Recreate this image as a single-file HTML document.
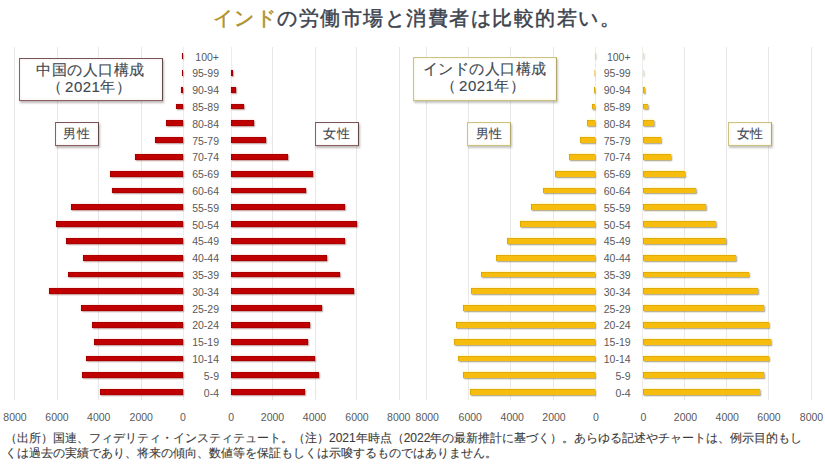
<!DOCTYPE html>
<html lang="ja"><head><meta charset="utf-8">
<style>
html,body{margin:0;padding:0;background:#fff;}
body{width:825px;height:464px;position:relative;overflow:hidden;font-family:"Liberation Sans",sans-serif;}
.t{position:absolute;left:4.5px;width:825px;top:3px;-webkit-text-stroke:0.45px currentColor;text-align:center;font-size:19.5px;letter-spacing:1.5px;line-height:30px;color:#3b424d;white-space:nowrap;}
.t span{color:#b09126;}
.g{position:absolute;top:47px;height:353px;width:1px;background:#e8e8e8;}
.ax{position:absolute;top:47px;height:353px;width:1px;background:#ededed;}
.b{position:absolute;height:5.8px;}
.r{background:#c00000;box-shadow:inset 0.6px 0.6px 0 rgba(90,0,0,0.45), inset -0.6px -0.6px 0 rgba(90,0,0,0.4), 0 0 2px rgba(235,100,100,0.45), 0.8px 1.2px 1.2px rgba(90,20,20,0.4);}
.y{background:#f6bd0e;box-shadow:inset 0.6px 0.6px 0 rgba(150,110,0,0.45), 0 -1px 2px rgba(255,245,190,0.8), 0.8px 1.3px 1.3px rgba(100,85,30,0.6);}
.al{position:absolute;width:60px;text-align:right;font-size:10.5px;line-height:16px;color:#595959;margin-top:0.5px;}
.xl{position:absolute;top:409px;width:60px;text-align:center;font-size:10.5px;line-height:16px;color:#595959;}
.bx{position:absolute;background:#fff;box-sizing:border-box;text-align:center;color:#404850;white-space:nowrap;}
.bc{border:1px solid #8d6064;border-right-color:#5e4848;border-top-color:#7a5558;box-shadow:1px 1.5px 2px rgba(40,20,20,0.3), inset 0 0 3px #f6e8e8;}
.bi{border:1px solid #cdc283;border-right-color:#b0a770;box-shadow:1px 1.5px 2px rgba(60,60,40,0.3), inset 0 0 3px #f6efcc;}
.big{font-size:15px;line-height:17.4px;padding-top:2px;letter-spacing:0.5px;-webkit-text-stroke:0.15px currentColor;}
.big i{font-style:normal;letter-spacing:3px;}
.sm{font-size:13px;line-height:21.5px;letter-spacing:0.3px;-webkit-text-stroke:0.1px currentColor;}
.ft{position:absolute;left:5px;top:431px;font-size:12px;line-height:15px;color:#3c3c3c;-webkit-text-stroke:0.12px currentColor;white-space:nowrap;}
</style></head><body>
<div class="t"><span>インド</span>の労働市場と消費者は比較的若い。</div>
<div class="g" style="left:14px"></div>
<div class="g" style="left:57px"></div>
<div class="g" style="left:98px"></div>
<div class="g" style="left:141px"></div>
<div class="g" style="left:272px"></div>
<div class="g" style="left:315px"></div>
<div class="g" style="left:356px"></div>
<div class="g" style="left:399px"></div>
<div class="ax" style="left:182.50px"></div>
<div class="ax" style="left:230.75px"></div>
<div class="b r" style="left:181.70px;top:53.20px;width:1.30px"></div>
<div class="al" style="left:159.00px;top:48.10px">100+</div>
<div class="b r" style="left:181.70px;top:70.00px;width:1.30px"></div>
<div class="b r" style="left:231.25px;top:70.00px;width:1.25px"></div>
<div class="al" style="left:159.00px;top:64.90px">95-99</div>
<div class="b r" style="left:181.00px;top:86.80px;width:2.00px"></div>
<div class="b r" style="left:231.25px;top:86.80px;width:5.00px"></div>
<div class="al" style="left:159.00px;top:81.70px">90-94</div>
<div class="b r" style="left:175.50px;top:103.60px;width:7.50px"></div>
<div class="b r" style="left:231.25px;top:103.60px;width:12.75px"></div>
<div class="al" style="left:159.00px;top:98.50px">85-89</div>
<div class="b r" style="left:166.00px;top:120.40px;width:17.00px"></div>
<div class="b r" style="left:231.25px;top:120.40px;width:22.75px"></div>
<div class="al" style="left:159.00px;top:115.30px">80-84</div>
<div class="b r" style="left:155.00px;top:137.20px;width:28.00px"></div>
<div class="b r" style="left:231.25px;top:137.20px;width:34.25px"></div>
<div class="al" style="left:159.00px;top:132.10px">75-79</div>
<div class="b r" style="left:135.00px;top:154.00px;width:48.00px"></div>
<div class="b r" style="left:231.25px;top:154.00px;width:56.35px"></div>
<div class="al" style="left:159.00px;top:148.90px">70-74</div>
<div class="b r" style="left:110.00px;top:170.80px;width:73.00px"></div>
<div class="b r" style="left:231.25px;top:170.80px;width:81.25px"></div>
<div class="al" style="left:159.00px;top:165.70px">65-69</div>
<div class="b r" style="left:111.50px;top:187.60px;width:71.50px"></div>
<div class="b r" style="left:231.25px;top:187.60px;width:74.75px"></div>
<div class="al" style="left:159.00px;top:182.50px">60-64</div>
<div class="b r" style="left:71.25px;top:204.40px;width:111.75px"></div>
<div class="b r" style="left:231.25px;top:204.40px;width:113.25px"></div>
<div class="al" style="left:159.00px;top:199.30px">55-59</div>
<div class="b r" style="left:55.75px;top:221.20px;width:127.25px"></div>
<div class="b r" style="left:231.25px;top:221.20px;width:125.75px"></div>
<div class="al" style="left:159.00px;top:216.10px">50-54</div>
<div class="b r" style="left:65.50px;top:238.00px;width:117.50px"></div>
<div class="b r" style="left:231.25px;top:238.00px;width:113.75px"></div>
<div class="al" style="left:159.00px;top:232.90px">45-49</div>
<div class="b r" style="left:82.75px;top:254.80px;width:100.25px"></div>
<div class="b r" style="left:231.25px;top:254.80px;width:95.75px"></div>
<div class="al" style="left:159.00px;top:249.70px">40-44</div>
<div class="b r" style="left:67.50px;top:271.60px;width:115.50px"></div>
<div class="b r" style="left:231.25px;top:271.60px;width:108.25px"></div>
<div class="al" style="left:159.00px;top:266.50px">35-39</div>
<div class="b r" style="left:48.75px;top:288.40px;width:134.25px"></div>
<div class="b r" style="left:231.25px;top:288.40px;width:122.50px"></div>
<div class="al" style="left:159.00px;top:283.30px">30-34</div>
<div class="b r" style="left:80.50px;top:305.20px;width:102.50px"></div>
<div class="b r" style="left:231.25px;top:305.20px;width:90.75px"></div>
<div class="al" style="left:159.00px;top:300.10px">25-29</div>
<div class="b r" style="left:92.00px;top:322.00px;width:91.00px"></div>
<div class="b r" style="left:231.25px;top:322.00px;width:78.25px"></div>
<div class="al" style="left:159.00px;top:316.90px">20-24</div>
<div class="b r" style="left:94.00px;top:338.80px;width:89.00px"></div>
<div class="b r" style="left:231.25px;top:338.80px;width:76.75px"></div>
<div class="al" style="left:159.00px;top:333.70px">15-19</div>
<div class="b r" style="left:85.50px;top:355.60px;width:97.50px"></div>
<div class="b r" style="left:231.25px;top:355.60px;width:83.25px"></div>
<div class="al" style="left:159.00px;top:350.50px">10-14</div>
<div class="b r" style="left:81.50px;top:372.40px;width:101.50px"></div>
<div class="b r" style="left:231.25px;top:372.40px;width:87.50px"></div>
<div class="al" style="left:159.00px;top:367.30px">5-9</div>
<div class="b r" style="left:100.25px;top:389.20px;width:82.75px"></div>
<div class="b r" style="left:231.25px;top:389.20px;width:73.25px"></div>
<div class="al" style="left:159.00px;top:384.10px">0-4</div>
<div class="g" style="left:426px"></div>
<div class="g" style="left:468px"></div>
<div class="g" style="left:510px"></div>
<div class="g" style="left:553px"></div>
<div class="g" style="left:684px"></div>
<div class="g" style="left:726px"></div>
<div class="g" style="left:768px"></div>
<div class="g" style="left:811px"></div>
<div class="ax" style="left:594.80px"></div>
<div class="ax" style="left:642.00px"></div>
<div class="b y" style="left:594.50px;top:53.20px;width:0.80px;opacity:0.45"></div>
<div class="b y" style="left:642.50px;top:53.20px;width:0.70px;opacity:0.45"></div>
<div class="al" style="left:570.60px;top:48.10px">100+</div>
<div class="b y" style="left:594.40px;top:70.00px;width:0.90px;opacity:0.45"></div>
<div class="b y" style="left:642.50px;top:70.00px;width:0.90px;opacity:0.45"></div>
<div class="al" style="left:570.60px;top:64.90px">95-99</div>
<div class="b y" style="left:594.00px;top:86.80px;width:1.30px"></div>
<div class="b y" style="left:642.50px;top:86.80px;width:2.50px"></div>
<div class="al" style="left:570.60px;top:81.70px">90-94</div>
<div class="b y" style="left:592.00px;top:103.60px;width:3.30px"></div>
<div class="b y" style="left:642.50px;top:103.60px;width:5.75px"></div>
<div class="al" style="left:570.60px;top:98.50px">85-89</div>
<div class="b y" style="left:587.00px;top:120.40px;width:8.30px"></div>
<div class="b y" style="left:642.50px;top:120.40px;width:11.25px"></div>
<div class="al" style="left:570.60px;top:115.30px">80-84</div>
<div class="b y" style="left:580.00px;top:137.20px;width:15.30px"></div>
<div class="b y" style="left:642.50px;top:137.20px;width:18.25px"></div>
<div class="al" style="left:570.60px;top:132.10px">75-79</div>
<div class="b y" style="left:568.75px;top:154.00px;width:26.55px"></div>
<div class="b y" style="left:642.50px;top:154.00px;width:28.75px"></div>
<div class="al" style="left:570.60px;top:148.90px">70-74</div>
<div class="b y" style="left:554.50px;top:170.80px;width:40.80px"></div>
<div class="b y" style="left:642.50px;top:170.80px;width:42.00px"></div>
<div class="al" style="left:570.60px;top:165.70px">65-69</div>
<div class="b y" style="left:543.25px;top:187.60px;width:52.05px"></div>
<div class="b y" style="left:642.50px;top:187.60px;width:53.25px"></div>
<div class="al" style="left:570.60px;top:182.50px">60-64</div>
<div class="b y" style="left:531.00px;top:204.40px;width:64.30px"></div>
<div class="b y" style="left:642.50px;top:204.40px;width:63.75px"></div>
<div class="al" style="left:570.60px;top:199.30px">55-59</div>
<div class="b y" style="left:519.50px;top:221.20px;width:75.80px"></div>
<div class="b y" style="left:642.50px;top:221.20px;width:73.75px"></div>
<div class="al" style="left:570.60px;top:216.10px">50-54</div>
<div class="b y" style="left:507.00px;top:238.00px;width:88.30px"></div>
<div class="b y" style="left:642.50px;top:238.00px;width:83.75px"></div>
<div class="al" style="left:570.60px;top:232.90px">45-49</div>
<div class="b y" style="left:495.50px;top:254.80px;width:99.80px"></div>
<div class="b y" style="left:642.50px;top:254.80px;width:93.25px"></div>
<div class="al" style="left:570.60px;top:249.70px">40-44</div>
<div class="b y" style="left:481.25px;top:271.60px;width:114.05px"></div>
<div class="b y" style="left:642.50px;top:271.60px;width:106.75px"></div>
<div class="al" style="left:570.60px;top:266.50px">35-39</div>
<div class="b y" style="left:471.25px;top:288.40px;width:124.05px"></div>
<div class="b y" style="left:642.50px;top:288.40px;width:115.75px"></div>
<div class="al" style="left:570.60px;top:283.30px">30-34</div>
<div class="b y" style="left:462.50px;top:305.20px;width:132.80px"></div>
<div class="b y" style="left:642.50px;top:305.20px;width:121.25px"></div>
<div class="al" style="left:570.60px;top:300.10px">25-29</div>
<div class="b y" style="left:456.25px;top:322.00px;width:139.05px"></div>
<div class="b y" style="left:642.50px;top:322.00px;width:126.75px"></div>
<div class="al" style="left:570.60px;top:316.90px">20-24</div>
<div class="b y" style="left:454.25px;top:338.80px;width:141.05px"></div>
<div class="b y" style="left:642.50px;top:338.80px;width:128.25px"></div>
<div class="al" style="left:570.60px;top:333.70px">15-19</div>
<div class="b y" style="left:457.50px;top:355.60px;width:137.80px"></div>
<div class="b y" style="left:642.50px;top:355.60px;width:126.25px"></div>
<div class="al" style="left:570.60px;top:350.50px">10-14</div>
<div class="b y" style="left:462.50px;top:372.40px;width:132.80px"></div>
<div class="b y" style="left:642.50px;top:372.40px;width:121.75px"></div>
<div class="al" style="left:570.60px;top:367.30px">5-9</div>
<div class="b y" style="left:469.50px;top:389.20px;width:125.80px"></div>
<div class="b y" style="left:642.50px;top:389.20px;width:117.50px"></div>
<div class="al" style="left:570.60px;top:384.10px">0-4</div>
<div class="xl" style="left:-15.00px">8000</div>
<div class="xl" style="left:27.00px">6000</div>
<div class="xl" style="left:68.75px">4000</div>
<div class="xl" style="left:111.25px">2000</div>
<div class="xl" style="left:153.00px">0</div>
<div class="xl" style="left:201.25px">0</div>
<div class="xl" style="left:242.50px">2000</div>
<div class="xl" style="left:284.50px">4000</div>
<div class="xl" style="left:327.00px">6000</div>
<div class="xl" style="left:368.75px">8000</div>
<div class="xl" style="left:397.25px">8000</div>
<div class="xl" style="left:440.25px">6000</div>
<div class="xl" style="left:482.25px">4000</div>
<div class="xl" style="left:524.00px">2000</div>
<div class="xl" style="left:566.00px">0</div>
<div class="xl" style="left:613.50px">0</div>
<div class="xl" style="left:655.50px">2000</div>
<div class="xl" style="left:697.25px">4000</div>
<div class="xl" style="left:739.00px">6000</div>
<div class="xl" style="left:781.50px">8000</div>
<div class="bx bc big" style="left:18.5px;top:57.5px;width:144px;height:43.5px">中国の人口構成<br><i>（</i>2021年<i>）</i></div>
<div class="bx bc sm" style="left:55px;top:122px;width:43.5px;height:23.5px">男性</div>
<div class="bx bc sm" style="left:315px;top:122px;width:43.5px;height:23.5px">女性</div>
<div class="bx bi big" style="left:412.5px;top:57px;width:144px;height:44px">インドの人口構成<br><i>（</i>2021年<i>）</i></div>
<div class="bx bi sm" style="left:467px;top:122px;width:44px;height:23.5px">男性</div>
<div class="bx bi sm" style="left:728px;top:122px;width:44px;height:23.5px">女性</div>
<div class="ft">（出所）国連、フィデリティ・インスティテュート。（注）2021年時点（2022年の最新推計に基づく）。あらゆる記述やチャートは、例示目的もし<br>くは過去の実績であり、将来の傾向、数値等を保証もしくは示唆するものではありません。</div>
</body></html>
